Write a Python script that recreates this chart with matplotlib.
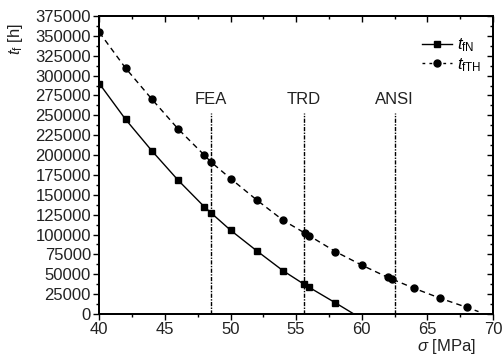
import matplotlib
matplotlib.use('Agg')
import matplotlib.pyplot as plt
from matplotlib.ticker import MultipleLocator
from matplotlib.lines import Line2D

plt.rcParams['font.family'] = ['Liberation Sans', 'DejaVu Sans']
plt.rcParams['mathtext.fontset'] = 'custom'
plt.rcParams['mathtext.it'] = 'Liberation Sans:italic'
plt.rcParams['mathtext.rm'] = 'Liberation Sans'

# t_fN (solid, squares)
sigma_n = [40, 42, 44, 46, 48, 48.5, 50, 52, 54, 55.6, 56, 58]
tf_n = [290000, 245000, 205500, 168500, 135000, 127500, 105500, 79500,
        54500, 37500, 33500, 14000]
sigma_n_end = 59.4
tf_n_end = 0

# t_fTH (dashed, circles)
sigma_th = [40, 42, 44, 46, 48, 48.5, 50, 52, 54, 55.7, 56, 58, 60, 62, 62.3,
            64, 66, 68]
tf_th = [354500, 309500, 270500, 233000, 200000, 191500, 170500, 143500,
         118000, 101500, 98500, 78500, 61500, 46000, 44000, 32300, 19700, 8400]
sigma_th_end = 68.9
tf_th_end = 3000

# reference stress levels
ref_names = ['FEA', 'TRD', 'ANSI']
ref_sigma = [48.5, 55.6, 62.5]
ref_top = 253000

TXT = '#222222'

fig = plt.figure(figsize=(5.03, 3.56), dpi=100)
ax = fig.add_axes([0.1974, 0.118, 0.7826, 0.837])

ax.plot(sigma_n + [sigma_n_end], tf_n + [tf_n_end], '-', color='black', lw=1.0)
ax.plot(sigma_n, tf_n, 's', color='black', ms=4.5, ls='none')
ax.plot(sigma_th + [sigma_th_end], tf_th + [tf_th_end], '--', color='black',
        lw=1.0, dashes=(4, 3))
ax.plot(sigma_th, tf_th, 'o', color='black', ms=5, ls='none')

for name, s in zip(ref_names, ref_sigma):
    ax.plot([s, s], [0, ref_top], color='black', lw=1.0,
            dashes=(3, 1, 1, 1))
    ax.text(s, ref_top + 8000, name, ha='center', va='bottom', fontsize=12,
            color=TXT)

# legend
h1 = Line2D([], [], color='black', lw=1.0, marker='s', ms=4.5)
h2 = Line2D([], [], color='black', lw=1.0, ls='--', dashes=(2, 3),
            marker='o', ms=5)
ax.legend([h1, h2], [r'$t_{\mathrm{fN}}$', r'$t_{\mathrm{fTH}}$'],
          loc='upper right', bbox_to_anchor=(1.0, 0.97),
          frameon=False, fontsize=12, handlelength=1.8,
          handletextpad=0.3, borderaxespad=0.3, labelspacing=0.1)

ax.set_xlim(40, 70)
ax.set_ylim(0, 375000)
ax.xaxis.set_major_locator(MultipleLocator(5))
ax.xaxis.set_minor_locator(MultipleLocator(2.5))
ax.yaxis.set_major_locator(MultipleLocator(25000))
ax.yaxis.set_minor_locator(MultipleLocator(12500))
ax.tick_params(which='both', direction='out', labelsize=12,
               labelcolor=TXT, width=1.0, pad=2)
ax.tick_params(which='major', length=4)
ax.tick_params(which='minor', length=2.5)

# mirrored inward ticks on top/right
axt = ax.twiny()
axt.set_xlim(ax.get_xlim())
axt.xaxis.set_major_locator(MultipleLocator(5))
axt.xaxis.set_minor_locator(MultipleLocator(2.5))
axt.tick_params(which='both', direction='in', labeltop=False, width=1.0)
axt.tick_params(which='major', length=4)
axt.tick_params(which='minor', length=2.5)
axr = ax.twinx()
axr.set_ylim(ax.get_ylim())
axr.yaxis.set_major_locator(MultipleLocator(25000))
axr.yaxis.set_minor_locator(MultipleLocator(12500))
axr.tick_params(which='both', direction='in', labelright=False, width=1.0)
axr.tick_params(which='major', length=4)
axr.tick_params(which='minor', length=2.5)

for a in (ax, axt, axr):
    for sp in a.spines.values():
        sp.set_linewidth(1.2)

fig.text(0.945, 0.0, r'$\sigma$ [MPa]', ha='right', va='bottom',
         fontsize=12, color=TXT)
fig.text(0.012, 0.935, r'$t_{\mathrm{f}}$ [h]', ha='left', va='top',
         rotation=90, fontsize=12, color=TXT)

fig.savefig('out.png', dpi=100)
